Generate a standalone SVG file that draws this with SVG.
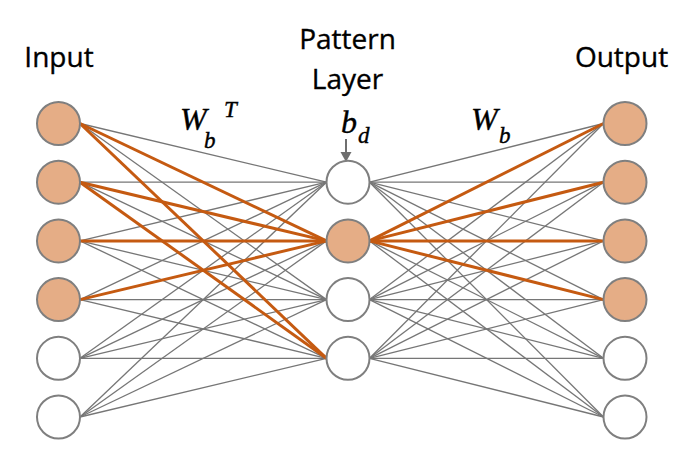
<svg xmlns="http://www.w3.org/2000/svg" width="685" height="460" viewBox="0 0 685 460">
<style>
.lbl{font-family:"Open Sans","Liberation Sans",sans-serif;font-size:28px;fill:#000;stroke:#000;stroke-width:0.35;text-anchor:middle}
.m{font-family:"Liberation Serif","DejaVu Serif",serif;font-style:italic;fill:#000;stroke:#000;stroke-width:0.4}
.g{stroke:#767676;stroke-width:1.3;fill:none}
.o{stroke:#C55A11;stroke-width:3;fill:none}
.on{fill:#E5AD86;stroke:#7f7f7f;stroke-width:2}
.off{fill:#fff;stroke:#7f7f7f;stroke-width:2}
</style>
<rect width="685" height="460" fill="#fff"/>
<text class="lbl" x="59" y="67">Input</text>
<text class="lbl" x="347.5" y="49">Pattern</text>
<text class="lbl" x="347.5" y="89">Layer</text>
<text class="lbl" x="621.5" y="67">Output</text>
<g id="label-wbt">
<text class="m" x="180" y="130" font-size="32">W</text>
<text class="m" x="204" y="148" font-size="23">b</text>
<text class="m" x="224" y="117" font-size="23">T</text>
</g>
<g id="label-bd">
<text class="m" x="341" y="133" font-size="32">b</text>
<text class="m" x="358" y="143" font-size="23">d</text>
</g>
<g id="label-wb">
<text class="m" x="471" y="130" font-size="32">W</text>
<text class="m" x="499" y="143" font-size="23">b</text>
</g>
<g id="connectors">
<g class="g">
<line x1="80" y1="123.5" x2="326.5" y2="182.2"/>
<line x1="80" y1="123.5" x2="326.5" y2="299.6"/>
<line x1="80" y1="182.2" x2="326.5" y2="182.2"/>
<line x1="80" y1="182.2" x2="326.5" y2="299.6"/>
<line x1="80" y1="240.9" x2="326.5" y2="182.2"/>
<line x1="80" y1="240.9" x2="326.5" y2="299.6"/>
<line x1="80" y1="240.9" x2="326.5" y2="358.3"/>
<line x1="80" y1="299.6" x2="326.5" y2="182.2"/>
<line x1="80" y1="299.6" x2="326.5" y2="299.6"/>
<line x1="80" y1="299.6" x2="326.5" y2="358.3"/>
<line x1="80" y1="358.3" x2="326.5" y2="182.2"/>
<line x1="80" y1="358.3" x2="326.5" y2="240.9"/>
<line x1="80" y1="358.3" x2="326.5" y2="299.6"/>
<line x1="80" y1="358.3" x2="326.5" y2="358.3"/>
<line x1="80" y1="417" x2="326.5" y2="182.2"/>
<line x1="80" y1="417" x2="326.5" y2="240.9"/>
<line x1="80" y1="417" x2="326.5" y2="299.6"/>
<line x1="80" y1="417" x2="326.5" y2="358.3"/>
<line x1="369.5" y1="182.2" x2="603.5" y2="123.5"/>
<line x1="369.5" y1="182.2" x2="603.5" y2="182.2"/>
<line x1="369.5" y1="182.2" x2="603.5" y2="240.9"/>
<line x1="369.5" y1="182.2" x2="603.5" y2="299.6"/>
<line x1="369.5" y1="182.2" x2="603.5" y2="358.3"/>
<line x1="369.5" y1="182.2" x2="603.5" y2="417"/>
<line x1="369.5" y1="240.9" x2="603.5" y2="358.3"/>
<line x1="369.5" y1="240.9" x2="603.5" y2="417"/>
<line x1="369.5" y1="299.6" x2="603.5" y2="123.5"/>
<line x1="369.5" y1="299.6" x2="603.5" y2="182.2"/>
<line x1="369.5" y1="299.6" x2="603.5" y2="240.9"/>
<line x1="369.5" y1="299.6" x2="603.5" y2="299.6"/>
<line x1="369.5" y1="299.6" x2="603.5" y2="358.3"/>
<line x1="369.5" y1="299.6" x2="603.5" y2="417"/>
<line x1="369.5" y1="358.3" x2="603.5" y2="123.5"/>
<line x1="369.5" y1="358.3" x2="603.5" y2="182.2"/>
<line x1="369.5" y1="358.3" x2="603.5" y2="240.9"/>
<line x1="369.5" y1="358.3" x2="603.5" y2="299.6"/>
<line x1="369.5" y1="358.3" x2="603.5" y2="358.3"/>
<line x1="369.5" y1="358.3" x2="603.5" y2="417"/>
</g>
<g class="o">
<line x1="80" y1="123.5" x2="326.5" y2="240.9"/>
<line x1="80" y1="123.5" x2="326.5" y2="358.3"/>
<line x1="80" y1="182.2" x2="326.5" y2="240.9"/>
<line x1="80" y1="182.2" x2="326.5" y2="358.3"/>
<line x1="80" y1="240.9" x2="326.5" y2="240.9"/>
<line x1="80" y1="299.6" x2="326.5" y2="240.9"/>
<line x1="369.5" y1="240.9" x2="603.5" y2="123.5"/>
<line x1="369.5" y1="240.9" x2="603.5" y2="182.2"/>
<line x1="369.5" y1="240.9" x2="603.5" y2="240.9"/>
<line x1="369.5" y1="240.9" x2="603.5" y2="299.6"/>
</g>
<g id="bias-arrow">
<line x1="346" y1="139" x2="346" y2="153" stroke="#6f6f6f" stroke-width="2"/>
<polygon points="340.5,152 351.5,152 346,162" fill="#6f6f6f"/>
</g>
</g>
<g id="in1"><circle class="on" cx="58.5" cy="123.5" r="21.5"/></g>
<g id="in2"><circle class="on" cx="58.5" cy="182.2" r="21.5"/></g>
<g id="in3"><circle class="on" cx="58.5" cy="240.9" r="21.5"/></g>
<g id="in4"><circle class="on" cx="58.5" cy="299.6" r="21.5"/></g>
<g id="in5"><circle class="off" cx="58.5" cy="358.3" r="21.5"/></g>
<g id="in6"><circle class="off" cx="58.5" cy="417" r="21.5"/></g>
<g id="p1"><circle class="off" cx="348" cy="182.2" r="21.5"/></g>
<g id="p2"><circle class="on" cx="348" cy="240.9" r="21.5"/></g>
<g id="p3"><circle class="off" cx="348" cy="299.6" r="21.5"/></g>
<g id="p4"><circle class="off" cx="348" cy="358.3" r="21.5"/></g>
<g id="out1"><circle class="on" cx="625" cy="123.5" r="21.5"/></g>
<g id="out2"><circle class="on" cx="625" cy="182.2" r="21.5"/></g>
<g id="out3"><circle class="on" cx="625" cy="240.9" r="21.5"/></g>
<g id="out4"><circle class="on" cx="625" cy="299.6" r="21.5"/></g>
<g id="out5"><circle class="off" cx="625" cy="358.3" r="21.5"/></g>
<g id="out6"><circle class="off" cx="625" cy="417" r="21.5"/></g>
</svg>
